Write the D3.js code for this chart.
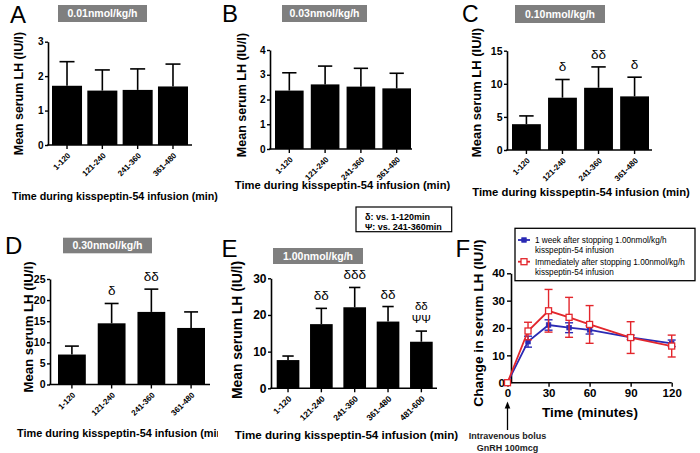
<!DOCTYPE html>
<html><head><meta charset="utf-8">
<script src="https://cdn.jsdelivr.net/npm/d3@7"></script>
<style>
body{margin:0;background:#fff}
svg{display:block}
text{font-family:"Liberation Sans",Arial,sans-serif}
</style>
</head><body>
<svg id="c" width="700" height="453"></svg>
<script>
// ---------- data ----------
const cats4 = ["1-120", "121-240", "241-360", "361-480"];
const cats5 = ["1-120", "121-240", "241-360", "361-480", "481-600"];
const doseLabels = ["0.01nmol/kg/h", "0.03nmol/kg/h", "0.10nmol/kg/h", "0.30nmol/kg/h", "1.00nmol/kg/h"];
const panelLetters = ["A", "B", "C", "D", "E", "F"];

const meanA = [1.72, 1.58, 1.60, 1.70];
const semA  = [0.70, 0.60, 0.61, 0.65];
const meanB = [2.36, 2.61, 2.52, 2.45];
const semB  = [0.72, 0.74, 0.74, 0.61];
const meanC = [3.9, 7.9, 9.4, 8.1];
const semC  = [1.25, 2.75, 3.15, 2.9];
const meanD = [7.1, 14.5, 17.2, 13.4];
const semD  = [2.0, 4.7, 5.4, 3.8];
const meanE = [7.7, 17.5, 22.1, 18.2, 12.7];
const semE  = [1.1, 4.3, 5.4, 4.1, 2.9];

const annC = [[], ["δ"], ["δδ"], ["δ"]];
const annD = [[], ["δ"], ["δδ"], []];
const annE = [[], ["δδ"], ["δδδ"], ["δδ"], ["δδ", "ΨΨ"]];

const yTicksA = [0, 1, 2, 3];
const yTicksB = [0, 1, 2, 3, 4];
const yTicksC = [0, 5, 10, 15];
const yTicksD = [0, 5, 10, 15, 20, 25];
const yTicksE = [0, 10, 20, 30];

const timesF   = [0, 15, 30, 45, 60, 90, 120];
const weekMean = [0, 15.0, 21.1, 20.1, 19.3, 16.6, 14.4];
const weekSem  = [0, 2.0, 1.9, 1.8, 1.5, 0.8, 1.2];
const immMean  = [0, 18.9, 26.3, 23.9, 21.3, 16.5, 13.4];
const immSem   = [0, 3.2, 7.8, 7.3, 6.9, 5.8, 4.0];
const xTicksF  = [0, 30, 60, 90, 120];
const yTicksF  = [0, 10, 20, 30, 40];
const legendF  = [["1 week after stopping 1.00nmol/kg/h", "kisspeptin-54 infusion"],
                  ["Immediately after stopping 1.00nmol/kg/h", "kisspeptin-54 infusion"]];
const sigLegend = ["δ: vs. 1-120min", "Ψ: vs. 241-360min"];

const yTitleBar = "Mean serum LH (IU/l)";
const xTitleBar = "Time during kisspeptin-54 infusion (min)";
const yTitleF = "Change in serum LH (IU/l)";
const xTitleF = "Time (minutes)";
const bolusNote = ["Intravenous bolus", "GnRH 100mcg"];

// ---------- drawing ----------
const svg = d3.select("#c");
const defs = svg.append("defs");
defs.append("clipPath").attr("id", "clipD").append("rect")
  .attr("x", 0).attr("y", 400).attr("width", 218).attr("height", 53);

function styleAxis(ax, fs) {
  ax.select(".domain").attr("stroke", "#000").attr("stroke-width", 1.6);
  ax.selectAll(".tick line").attr("stroke", "#000").attr("stroke-width", 1.4);
  ax.selectAll(".tick text").attr("fill", "#000").attr("font-weight", "bold")
    .attr("font-size", fs).attr("font-family", "'Liberation Sans',Arial,sans-serif");
}

function barPanel(o) {
  const g = svg.append("g");
  const x = d3.scaleBand().domain(o.cats).range([o.b0, o.b1]).paddingInner(o.pad).paddingOuter(0);
  const y = d3.scaleLinear().domain([0, o.ymax]).range([o.base, o.top]);
  const bw = x.bandwidth();

  // panel letter
  g.append("text").attr("x", o.letter[0]).attr("y", o.letter[1]).attr("font-size", o.letterFs || 24)
    .text(o.letterText);
  // dose box
  g.append("rect").attr("x", o.box[0]).attr("y", o.box[1]).attr("width", o.box[2]).attr("height", o.box[3])
    .attr("fill", "#7f7f7f");
  g.append("text").attr("x", o.box[0] + o.box[2] / 2).attr("y", o.box[1] + o.box[3] / 2 + 3.8)
    .attr("text-anchor", "middle").attr("fill", "#fff").attr("font-weight", "bold").attr("font-size", 10.5)
    .text(o.dose);

  // bars
  g.selectAll("rect.bar").data(o.mean).join("rect").attr("class", "bar")
    .attr("x", (d, i) => x(o.cats[i])).attr("width", bw)
    .attr("y", d => y(d)).attr("height", d => y(0) - y(d)).attr("fill", "#000");
  // error bars
  const cw = Math.min(bw * 0.5, 15);
  o.mean.forEach((m, i) => {
    const cx = x(o.cats[i]) + bw / 2;
    const t = y(m + o.sem[i]);
    g.append("line").attr("x1", cx).attr("x2", cx).attr("y1", y(m)).attr("y2", t)
      .attr("stroke", "#000").attr("stroke-width", 1.6);
    g.append("line").attr("x1", cx - cw / 2).attr("x2", cx + cw / 2).attr("y1", t).attr("y2", t)
      .attr("stroke", "#000").attr("stroke-width", 1.6);
    if (o.ann && o.ann[i].length) {
      const lines = o.ann[i];
      const n = lines.length;
      lines.forEach((s, k) => {
        g.append("text").attr("x", cx).attr("y", t - 8 - (n - 1 - k) * 12.9)
          .attr("text-anchor", "middle")
          .attr("font-family", "'Liberation Serif','Times New Roman',serif")
          .attr("font-size", n > 1 ? 11.5 : 13.5).text(s);
      });
    }
  });

  // y axis
  const ya = g.append("g").attr("transform", `translate(${o.x0},0)`)
    .call(d3.axisLeft(y).tickValues(o.yTicks).tickFormat(d3.format("d"))
      .tickSize(3).tickSizeOuter(0).tickPadding(1.5));
  styleAxis(ya, o.tickFs);
  // x axis
  const xa = g.append("g").attr("transform", `translate(0,${o.base})`)
    .call(d3.axisBottom(x).tickSize(4).tickSizeOuter(0).tickFormat(""));
  xa.select(".domain").remove();
  styleAxis(xa, o.tickFs);
  g.append("line").attr("x1", o.x0 - 0.8).attr("x2", o.x1).attr("y1", o.base).attr("y2", o.base)
    .attr("stroke", "#000").attr("stroke-width", 1.6);
  // rotated category labels
  o.cats.forEach(c => {
    const cx = x(c) + bw / 2;
    g.append("text").attr("transform", `translate(${cx + 4},${o.base + 11}) rotate(-45)`)
      .attr("text-anchor", "end").attr("font-weight", "bold").attr("font-size", o.catFs)
      .attr("fill", "#000").text(c);
  });
  // titles
  g.append("text").attr("transform", `translate(${o.yt[0]},${o.yt[1]}) rotate(-90)`)
    .attr("text-anchor", "middle").attr("dy", "0.35em").attr("font-weight", "bold").attr("font-size", o.ytFs)
    .text(yTitleBar);
  const xt = g.append("text").attr("x", o.xt[0]).attr("y", o.xt[1]).attr("dy", "0.35em")
    .attr("text-anchor", o.xtAnchor || "middle").attr("font-weight", "bold").attr("font-size", o.xtFs)
    .text(xTitleBar);
  if (o.clip) xt.attr("clip-path", `url(#${o.clip})`);
}

barPanel({cats: cats4, mean: meanA, sem: semA, yTicks: yTicksA, ymax: 3,
  x0: 48, x1: 192, b0: 52, b1: 188, pad: 0.15, base: 145, top: 41.7,
  letter: [10, 23.3], letterText: panelLetters[0], box: [58, 5, 89, 17], dose: doseLabels[0],
  tickFs: 10, catFs: 8, yt: [19, 93.5], ytFs: 12.4, xt: [115, 196.5], xtFs: 10.7});

barPanel({cats: cats4, mean: meanB, sem: semB, yTicks: yTicksB, ymax: 4,
  x0: 270, x1: 412, b0: 275, b1: 411, pad: 0.2, base: 149, top: 50,
  letter: [222, 22], letterText: panelLetters[1], box: [282, 5, 85, 17], dose: doseLabels[1],
  tickFs: 10, catFs: 8, yt: [241.5, 95], ytFs: 12.5, xt: [342.5, 185], xtFs: 11.2});

barPanel({cats: cats4, mean: meanC, sem: semC, yTicks: yTicksC, ymax: 15,
  x0: 507, x1: 652, b0: 512, b1: 649, pad: 0.2, base: 150, top: 50.7,
  letter: [462, 21.5], letterFs: 23, letterText: panelLetters[2], box: [515, 5, 90, 18], dose: doseLabels[2],
  tickFs: 10.5, catFs: 8, ann: annC, yt: [476.5, 92.5], ytFs: 13, xt: [581, 192], xtFs: 11.3});

barPanel({cats: cats4, mean: meanD, sem: semD, yTicks: yTicksD, ymax: 25,
  x0: 50, x1: 210, b0: 58, b1: 205, pad: 0.3, base: 384.5, top: 279,
  letter: [5, 254], letterText: panelLetters[3], box: [63, 237.7, 89, 15.6], dose: doseLabels[3],
  tickFs: 10.5, catFs: 8, ann: annD, yt: [28, 327], ytFs: 13.2, xt: [17, 433], xtAnchor: "start", xtFs: 10.9, clip: "clipD"});

barPanel({cats: cats5, mean: meanE, sem: semE, yTicks: yTicksE, ymax: 30,
  x0: 271, x1: 437, b0: 276.7, b1: 432.7, pad: 0.32, base: 388.3, top: 278.3,
  letter: [221.5, 256.7], letterText: panelLetters[4], box: [273, 248, 90, 16], dose: doseLabels[4],
  tickFs: 12, catFs: 8.5, ann: annE, yt: [237, 330], ytFs: 13.9, xt: [346.5, 435], xtFs: 11.6});

// significance legend box
{
  const g = svg.append("g");
  g.append("rect").attr("x", 356).attr("y", 207).attr("width", 95.7).attr("height", 24.7)
    .attr("fill", "#fff").attr("stroke", "#000").attr("stroke-width", 1.2);
  sigLegend.forEach((s, i) => {
    g.append("text").attr("x", 365).attr("y", 220 + i * 10).attr("font-weight", "bold")
      .attr("font-size", 9).text(s);
  });
}

// ---------- panel F ----------
{
  const g = svg.append("g");
  const x = d3.scaleLinear().domain([0, 120]).range([507.5, 671.7]);
  const y = d3.scaleLinear().domain([0, 40]).range([382.7, 273.3]);
  const yAxisX = 511;

  g.append("text").attr("x", 455.5).attr("y", 257).attr("font-size", 24).text(panelLetters[5]);

  const ya = g.append("g").attr("transform", `translate(${yAxisX},0)`)
    .call(d3.axisLeft(y).tickValues(yTicksF).tickSize(4).tickSizeOuter(0).tickPadding(2));
  styleAxis(ya, 11.5);
  const xa = g.append("g").attr("transform", `translate(0,${y(0)})`)
    .call(d3.axisBottom(x).tickValues(xTicksF).tickSize(4).tickSizeOuter(0).tickPadding(2.5));
  xa.select(".domain").remove();
  styleAxis(xa, 11.5);
  g.append("line").attr("x1", yAxisX - 0.8).attr("x2", x(120)).attr("y1", y(0)).attr("y2", y(0))
    .attr("stroke", "#000").attr("stroke-width", 1.6);

  const series = [
    {mean: weekMean, sem: weekSem, color: "#2a2ab4", open: false},
    {mean: immMean, sem: immSem, color: "#e3262c", open: true}
  ];
  const line = d3.line().x(d => x(d[0])).y(d => y(d[1]));
  series.forEach(s => {
    const pts = timesF.map((t, i) => [t, s.mean[i], s.sem[i]]);
    pts.forEach(p => {
      if (p[2] <= 0) return;
      const cx = x(p[0]), t = y(p[1] + p[2]), b = y(p[1] - p[2]);
      g.append("line").attr("x1", cx).attr("x2", cx).attr("y1", t).attr("y2", b)
        .attr("stroke", s.color).attr("stroke-width", 1.4);
      [t, b].forEach(yy => g.append("line").attr("x1", cx - 4).attr("x2", cx + 4).attr("y1", yy).attr("y2", yy)
        .attr("stroke", s.color).attr("stroke-width", 1.4));
    });
    g.append("path").attr("d", line(pts)).attr("fill", "none").attr("stroke", s.color).attr("stroke-width", 1.8);
    pts.forEach(p => {
      const sz = s.open ? 6 : 4.5;
      g.append("rect").attr("x", x(p[0]) - sz / 2).attr("y", y(p[1]) - sz / 2).attr("width", sz).attr("height", sz)
        .attr("fill", s.open ? "#fff" : s.color).attr("stroke", s.color).attr("stroke-width", s.open ? 1.3 : 0.8);
    });
  });

  // titles
  g.append("text").attr("transform", `translate(478,323) rotate(-90)`).attr("text-anchor", "middle")
    .attr("dy", "0.35em").attr("font-weight", "bold").attr("font-size", 13.7).text(yTitleF);
  g.append("text").attr("x", 590).attr("y", 412).attr("dy", "0.35em").attr("text-anchor", "middle")
    .attr("font-weight", "bold").attr("font-size", 13.5).text(xTitleF);

  // legend
  g.append("rect").attr("x", 515).attr("y", 228.3).attr("width", 180).attr("height", 52.4)
    .attr("fill", "#fff").attr("stroke", "#000").attr("stroke-width", 1.3);
  series.forEach((s, i) => {
    const ly = i === 0 ? 240 : 261.7;
    g.append("line").attr("x1", 518).attr("x2", 530).attr("y1", ly).attr("y2", ly)
      .attr("stroke", s.color).attr("stroke-width", 1.8);
    const sz = s.open ? 6 : 4.5;
    g.append("rect").attr("x", 524 - sz / 2).attr("y", ly - sz / 2).attr("width", sz).attr("height", sz)
      .attr("fill", s.open ? "#fff" : s.color).attr("stroke", s.color).attr("stroke-width", s.open ? 1.3 : 0.8);
    legendF[i].forEach((t, k) => {
      g.append("text").attr("x", 535).attr("y", ly + 3 + k * 9.8).attr("font-size", 8.2).text(t);
    });
  });

  // arrow & bolus note
  const ax = x(0);
  g.append("line").attr("x1", ax).attr("x2", ax).attr("y1", 430).attr("y2", 407)
    .attr("stroke", "#000").attr("stroke-width", 1.3);
  g.append("path").attr("d", `M${ax},401.5 L${ax - 2.8},408.5 L${ax + 2.8},408.5 Z`).attr("fill", "#000");
  bolusNote.forEach((t, k) => {
    g.append("text").attr("x", ax).attr("y", 439.3 + k * 11.2).attr("text-anchor", "middle")
      .attr("font-weight", "bold").attr("font-size", 9).attr("fill", "#222").text(t);
  });
}
</script>
</body></html>
